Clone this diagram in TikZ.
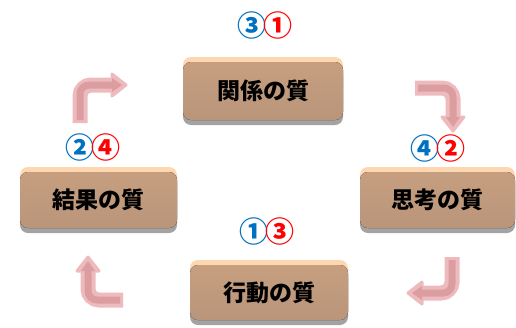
\documentclass[tikz,border=0pt]{standalone}
\usepackage{fontspec}
\newfontfamily\jp{Noto Sans CJK JP}
\usetikzlibrary{shadings}
\definecolor{boxtop}{HTML}{C79F80}
\definecolor{boxbot}{HTML}{B9957A}
\definecolor{peach}{HTML}{FDD7B0}
\definecolor{shad}{HTML}{A3A3A3}
\definecolor{numblue}{HTML}{0070C0}
\definecolor{numred}{HTML}{FF0000}
\definecolor{arrout}{HTML}{EDBBBD}
\definecolor{arrin}{HTML}{DC9DA1}
\tikzset{
  qbox/.style={rounded corners=8pt, top color=boxtop, bottom color=boxbot, draw=none},
  qpeach/.style={rounded corners=8pt, fill=peach},
  qshadow/.style={rounded corners=8pt, fill=shad},
  qtext/.style={font=\jp\bfseries\fontsize{23}{23}\selectfont, text=black},
  qnum/.style={font=\jp\bfseries\fontsize{29}{29}\selectfont, inner sep=0pt},
  arrshaft/.style={line width=15pt, color=arrout, rounded corners=11pt},
  arrshaftin/.style={line width=7pt, color=arrin, rounded corners=9pt},
  arrhead/.style={fill=arrout, draw=arrout, line width=3pt, line join=round},
  arrheadin/.style={fill=arrin},
}
\newcommand{\qualitybox}[5]{% name, x1, y1, x2, y2
  \fill[qshadow] (#2,#3+5) rectangle (#4,#5+5);
  \fill[qpeach] (#2,#3-5) rectangle (#4,#5-3);
  \fill[qbox] (#2,#3) rectangle (#4,#5);
  \node[qtext] (#1) at ({(#2+#4)/2},{(#3+#5)/2}) {};
}
\newcommand{\numpair}[2]{\textcolor{numblue}{#1}\kern-2.5pt\textcolor{numred}{#2}}
\begin{document}
\begin{tikzpicture}[x=1pt,y=-1pt]
\useasboundingbox (0,0) rectangle (516,327);
% boxes
\qualitybox{kankei}{183}{62}{343}{120}
\qualitybox{kekka}{20}{172}{177}{228}
\qualitybox{shikou}{360}{172}{515}{228}
\qualitybox{koudou}{190}{265}{348}{320}
\node[qtext] at (kankei) {関係の質};
\node[qtext] at (kekka) {結果の質};
\node[qtext] at (shikou) {思考の質};
\node[qtext] at (koudou) {行動の質};
% numbers
\node[qnum] (n1) at (265,25) {\numpair{③}{①}};
\node[qnum] (n2) at (93,147) {\numpair{②}{④}};
\node[qnum] (n3) at (438,148) {\numpair{④}{②}};
\node[qnum] (n4) at (267,231) {\numpair{①}{③}};
% arrow 1: up then right
\coordinate (a1s) at (80,123); \coordinate (a1c) at (80,85); \coordinate (a1e) at (113,85);
\draw[arrshaft] (a1s) -- (a1c) -- (a1e);
\filldraw[arrhead] (112,74) -- (126,85) -- (112,96) -- cycle;
\draw[arrshaftin] (80,120) -- (a1c) -- (114,85);
\fill[arrheadin] (112,78) -- (122,85) -- (112,92) -- cycle;
% arrow 2: right then down
\coordinate (a2s) at (415,88); \coordinate (a2c) at (453,88); \coordinate (a2e) at (453,118);
\draw[arrshaft] (a2s) -- (a2c) -- (a2e);
\filldraw[arrhead] (442,117) -- (453,131) -- (464,117) -- cycle;
\draw[arrshaftin] (418,88) -- (a2c) -- (453,119);
\fill[arrheadin] (446,117) -- (453,127) -- (460,117) -- cycle;
% arrow 3: down then left
\coordinate (a3s) at (452,257); \coordinate (a3c) at (452,293); \coordinate (a3e) at (421,293);
\draw[arrshaft] (a3s) -- (a3c) -- (a3e);
\filldraw[arrhead] (422,282) -- (408,293) -- (422,304) -- cycle;
\draw[arrshaftin] (452,260) -- (a3c) -- (420,293);
\fill[arrheadin] (422,286) -- (412,293) -- (422,300) -- cycle;
% arrow 4: left then up
\coordinate (a4s) at (123,300); \coordinate (a4c) at (88,300); \coordinate (a4e) at (88,270);
\draw[arrshaft] (a4s) -- (a4c) -- (a4e);
\filldraw[arrhead] (77,271) -- (88,257) -- (99,271) -- cycle;
\draw[arrshaftin] (120,300) -- (a4c) -- (88,269);
\fill[arrheadin] (81,271) -- (88,261) -- (95,271) -- cycle;
\end{tikzpicture}
\end{document}
